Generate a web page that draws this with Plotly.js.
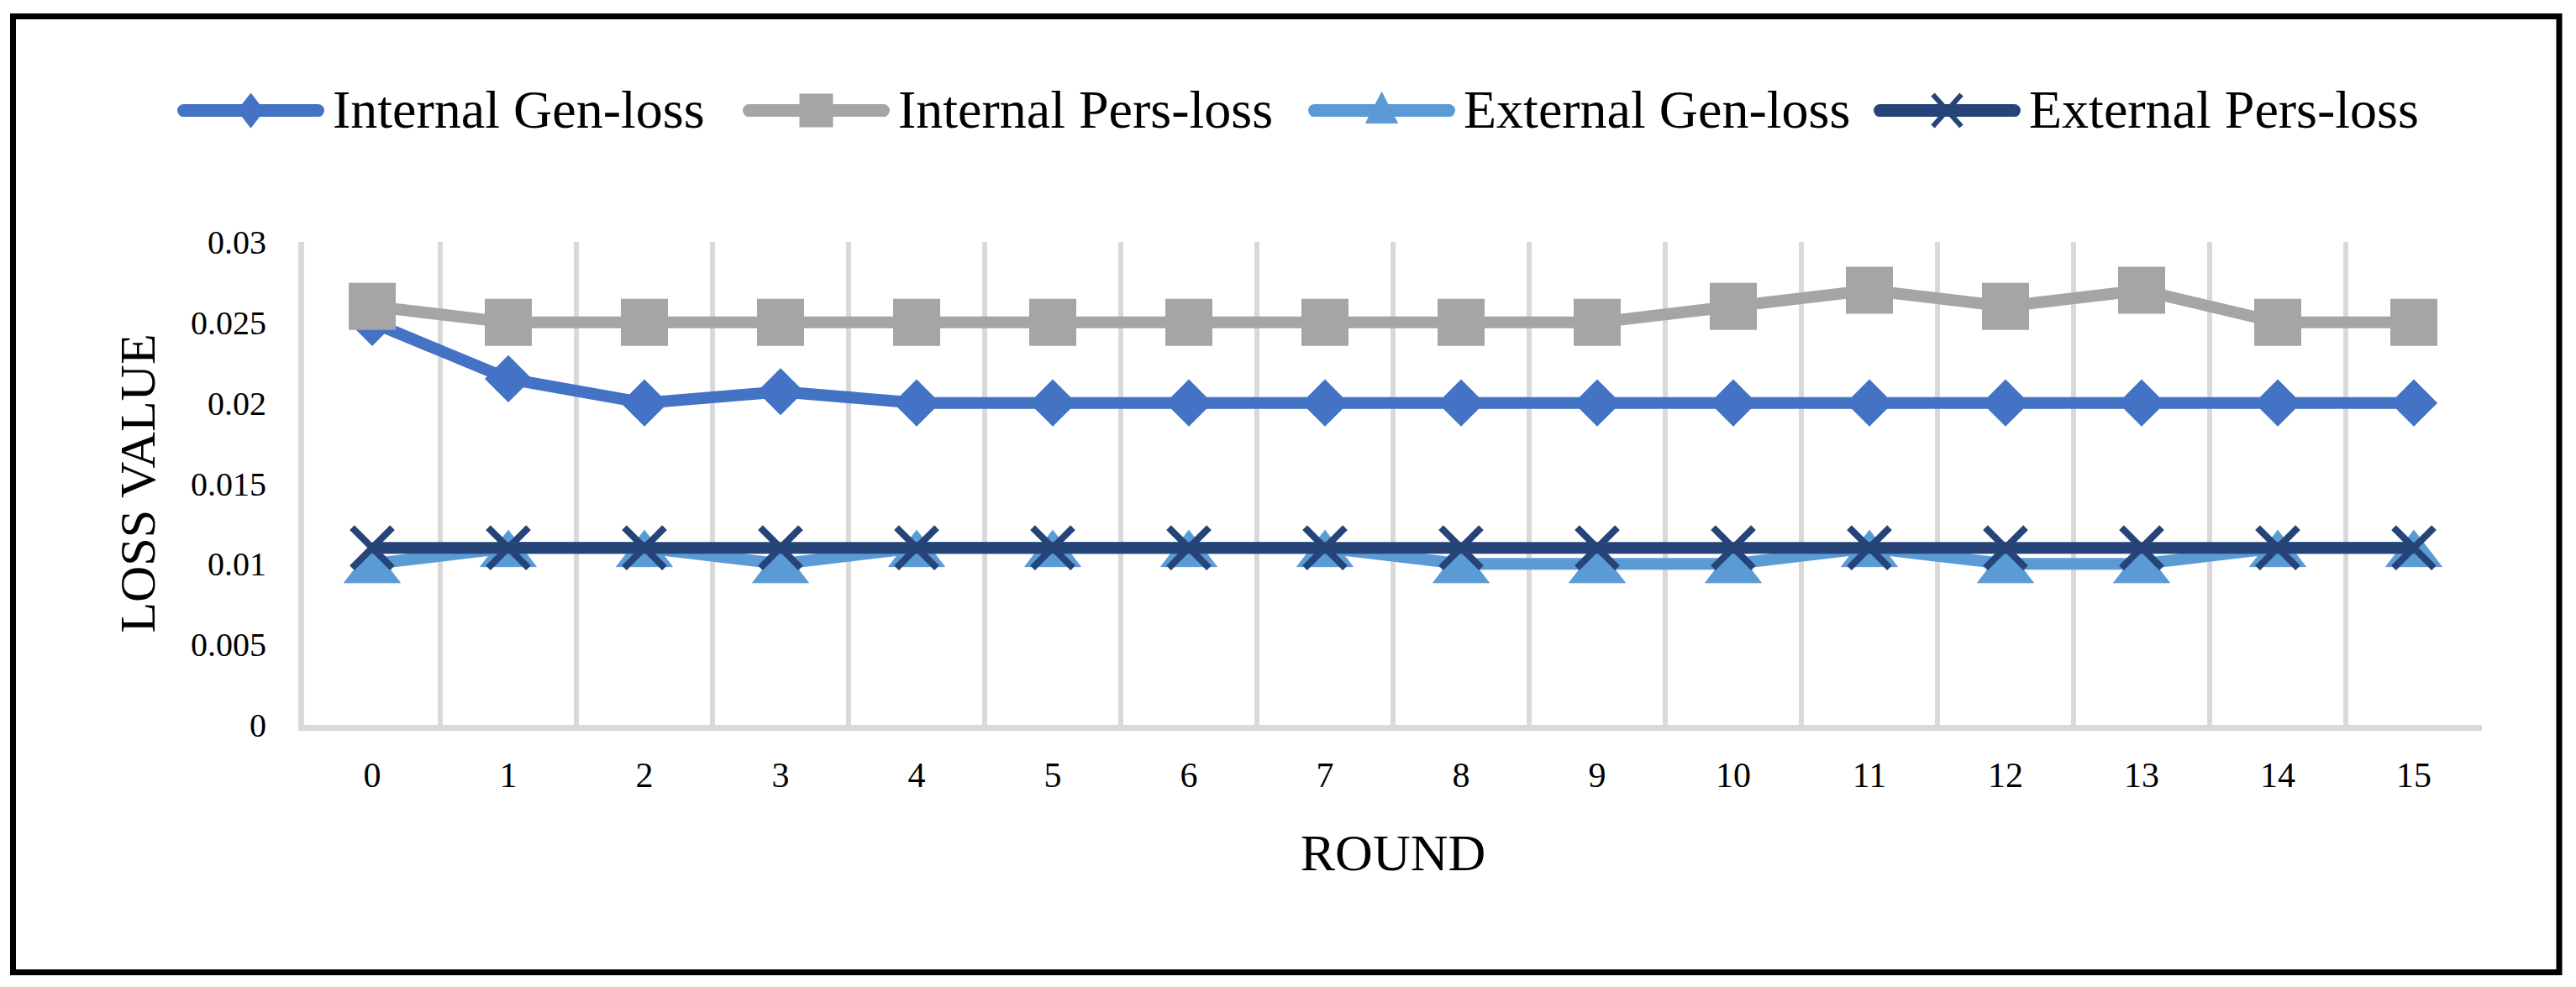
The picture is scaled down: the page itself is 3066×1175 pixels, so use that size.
<!DOCTYPE html>
<html>
<head>
<meta charset="utf-8">
<script src="https://cdn.plot.ly/plotly-3.0.1.min.js"></script>
<style>
html,body{margin:0;padding:0;background:#fff;}
#chart{width:3066px;height:1175px;}
</style>
</head>
<body>
<div id="chart"></div>
<script>
// ---- data ----
const rounds = ['0','1','2','3','4','5','6','7','8','9','10','11','12','13','14','15'];
const internalGen  = [0.025, 0.0215, 0.020, 0.0207, 0.020, 0.020, 0.020, 0.020, 0.020, 0.020, 0.020, 0.020, 0.020, 0.020, 0.020, 0.020];
const internalPers = [0.026, 0.025, 0.025, 0.025, 0.025, 0.025, 0.025, 0.025, 0.025, 0.025, 0.026, 0.027, 0.026, 0.027, 0.025, 0.025];
const externalGen  = [0.010, 0.011, 0.011, 0.010, 0.011, 0.011, 0.011, 0.011, 0.010, 0.010, 0.010, 0.011, 0.010, 0.010, 0.011, 0.011];
const externalPers = [0.011, 0.011, 0.011, 0.011, 0.011, 0.011, 0.011, 0.011, 0.011, 0.011, 0.011, 0.011, 0.011, 0.011, 0.011, 0.011];
const seriesNames  = ['Internal Gen-loss', 'Internal Pers-loss', 'External Gen-loss', 'External Pers-loss'];
const yTitle = 'LOSS VALUE';
const xTitle = 'ROUND';

// ---- geometry ----
const W = 3066, H = 1175;
const ML = 362, MR = 112, MT = 288, MB = 312;
const PW = W - ML - MR, PH = H - MT - MB;
const px2x = p => (p - ML) / PW;
const px2y = p => (H - MB - p) / PH;

const FONT = 'Liberation Serif, Times New Roman, serif';
const GRID = '#d9d9d9';
const ITEMW = 175;

const data = [
  {x: rounds, y: internalGen, name: seriesNames[0], type: 'scatter', mode: 'lines+markers',
   line: {color: '#4472C4', width: 14},
   marker: {symbol: 'diamond', size: 41, color: '#4472C4', line: {color: '#4472C4', width: 2}}},
  {x: rounds, y: internalPers, name: seriesNames[1], type: 'scatter', mode: 'lines+markers',
   line: {color: '#A5A5A5', width: 14},
   marker: {symbol: 'square', size: 54, color: '#A5A5A5', line: {color: '#A5A5A5', width: 2}}},
  {x: rounds, y: externalGen, name: seriesNames[2], type: 'scatter', mode: 'lines+markers',
   line: {color: '#5B9BD5', width: 14},
   marker: {symbol: 'triangle-up', size: 58, standoff: 8, color: '#5B9BD5', line: {color: '#5B9BD5', width: 1}}},
  {x: rounds, y: externalPers, name: seriesNames[3], type: 'scatter', mode: 'lines+markers',
   line: {color: '#264478', width: 14},
   marker: {symbol: 'x-thin', size: 48, color: '#264478', line: {color: '#264478', width: 8}}}
];

const layout = {
  width: W, height: H,
  margin: {l: ML, r: MR, t: MT, b: MB, pad: 0},
  paper_bgcolor: '#ffffff', plot_bgcolor: '#ffffff',
  font: {family: FONT, color: '#000000', size: 40},
  showlegend: true,
  legend: {
    orientation: 'h', x: px2x(206), xanchor: 'left', y: px2y(132), yanchor: 'middle',
    font: {family: FONT, size: 64, color: '#000'}, itemwidth: ITEMW,
    entrywidth: 483, entrywidthmode: 'pixels',
    bgcolor: 'rgba(0,0,0,0)', borderwidth: 0, traceorder: 'normal'
  },
  xaxis: {
    type: 'category', range: [-0.5, 15.5], tickson: 'boundaries',
    showgrid: true, gridcolor: GRID, gridwidth: 6,
    showline: true, linecolor: GRID, linewidth: 7,
    ticks: '', tickfont: {family: FONT, size: 42, color: '#000'}, ticklabelstandoff: 17,
    zeroline: false, fixedrange: true,
    title: {text: xTitle, font: {family: FONT, size: 62, color: '#000'}, standoff: 50}
  },
  yaxis: {
    range: [0, 0.03], tick0: 0, dtick: 0.005,
    showgrid: false, zeroline: false,
    showline: true, linecolor: GRID, linewidth: 7,
    ticks: '', tickfont: {family: FONT, size: 40, color: '#000'}, ticklabelstandoff: 30,
    fixedrange: true,
    title: {text: yTitle, font: {family: FONT, size: 60, color: '#000'}, standoff: 6}
  },
  shapes: [{
    type: 'rect', xref: 'paper', yref: 'paper', layer: 'above',
    x0: px2x(15.5), x1: px2x(3046), y0: px2y(1157.5), y1: px2y(19.5),
    line: {color: '#000000', width: 7}, fillcolor: 'rgba(0,0,0,0)'
  }]
};

Plotly.newPlot('chart', data, layout, {staticPlot: true, displayModeBar: false, responsive: false}).then(gd => {
  // Plotly caps legend symbol sizes; redraw the legend symbols at the reference's size
  const legendSymbols = [
    {d: 'M15,0L0,19.5L-15,0L0,-19.5Z', sw: 2},
    {d: 'M19,19H-19V-19H19Z', sw: 2},
    {d: 'M-19,15H19L0,-22Z', sw: 1},
    {d: 'M17,19L-17,-19M17,-19L-17,19', sw: 6}
  ];
  gd.querySelectorAll('.legend .traces').forEach((g, i) => {
    g.querySelectorAll('.legendlines path').forEach(p => {
      p.setAttribute('d', 'M12.5,0h' + (ITEMW - 15));
      p.style.strokeWidth = '15px';
      p.style.strokeLinecap = 'round';
    });
    g.querySelectorAll('.legendpoints path.scatterpts').forEach(p => {
      p.setAttribute('d', legendSymbols[i].d);
      p.style.strokeWidth = legendSymbols[i].sw + 'px';
    });
    g.querySelectorAll('text.legendtext').forEach(tx => {
      const x0 = parseFloat(tx.getAttribute('x') || '0');
      const y0 = parseFloat(tx.getAttribute('y') || '0');
      tx.setAttribute('x', x0 + 5);
      tx.setAttribute('y', y0 - 5);
    });
  });
  // nudge the y-axis title to the reference's position
  const yt = gd.querySelector('.ytitle');
  if (yt) yt.setAttribute('transform', 'translate(-20,0) ' + (yt.getAttribute('transform') || ''));
});
</script>
</body>
</html>
